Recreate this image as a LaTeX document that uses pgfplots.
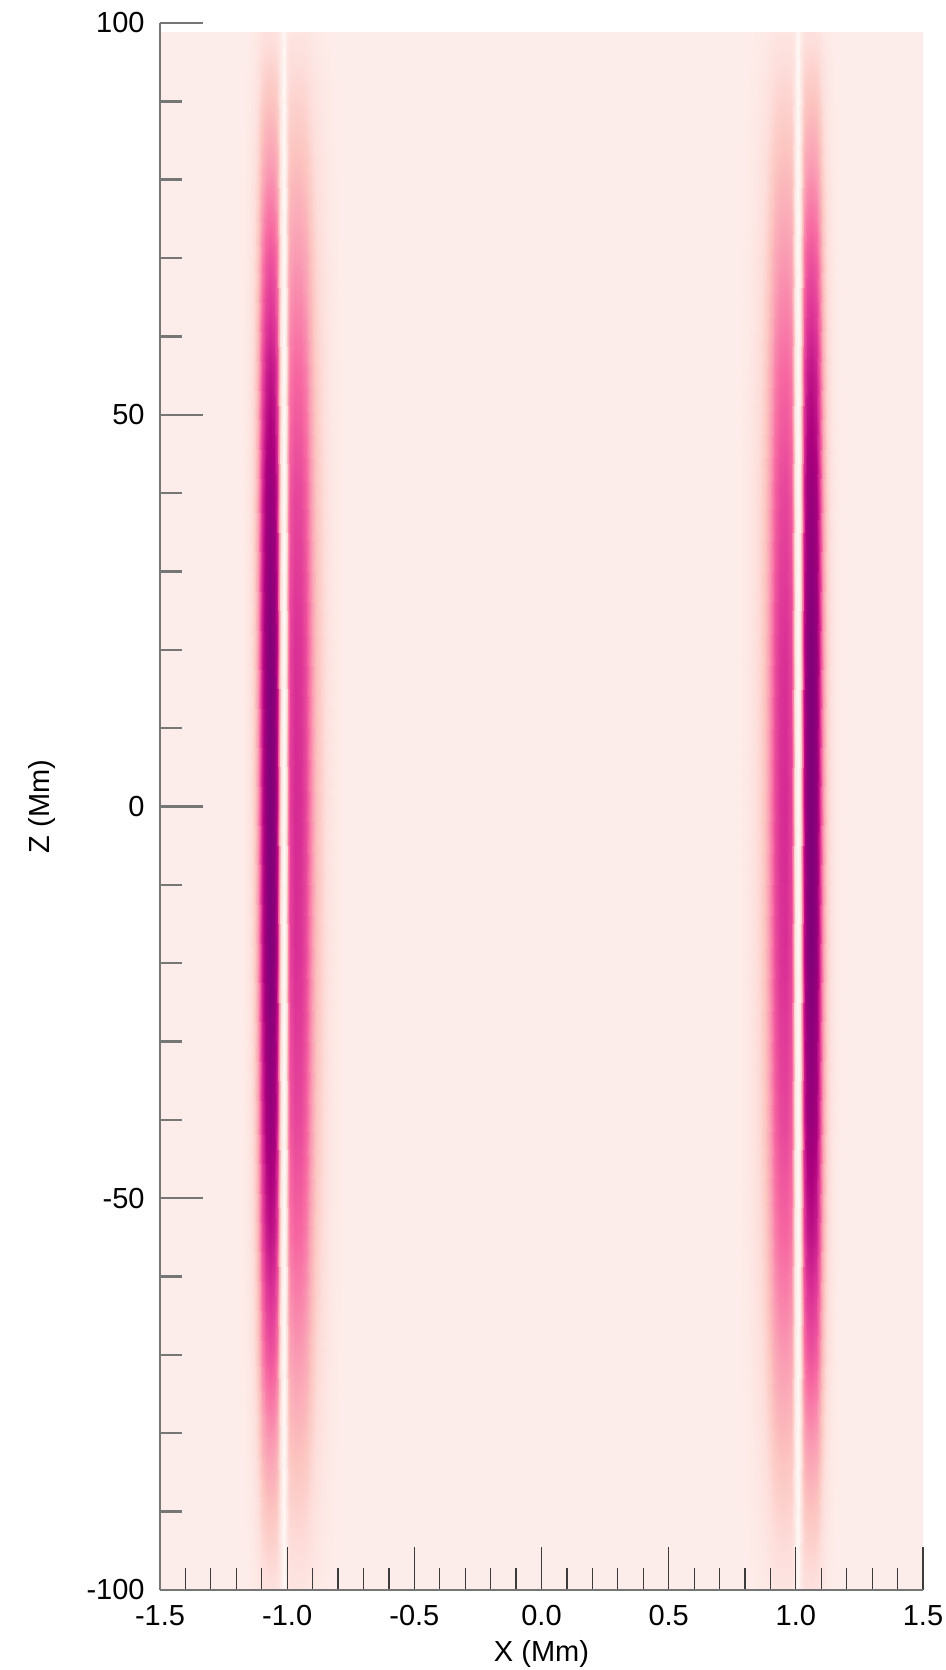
\documentclass[border=0pt]{standalone}
\usepackage{pgfplots}
\pgfplotsset{compat=1.18}
\usepackage{fontspec}
\setmainfont{Liberation Sans}

\definecolor{axgray}{RGB}{118,118,118}
\definecolor{tickdark}{RGB}{60,60,60}

\begin{document}
\begin{tikzpicture}
\begin{axis}[
  scale only axis,
  width=381.5pt, height=783.5pt,
  xmin=-1.5, xmax=1.5, ymin=-100, ymax=100,
  axis lines*=left,
  axis on top,
  tick align=inside,
  major tick length=21.5pt, minor tick length=11pt,
  xtick={-1.5,-1,-0.5,0,0.5,1,1.5},
  xticklabels={-1.5,-1.0,-0.5,0.0,0.5,1.0,1.5},
  ytick={-100,-50,0,50,100},
  yticklabels={-100,-50,0,50,100},
  minor x tick num=4, minor y tick num=4,
  every x tick/.append style={draw=tickdark, line width=0.6pt},
  every y tick/.append style={draw=axgray, line width=1.2pt},
  x axis line style={draw=axgray, line width=1.2pt},
  y axis line style={draw=axgray, line width=1.2pt},
  tick label style={font=\fontsize{14.5}{16}\selectfont, text=black},
  xticklabel style={anchor=north, inner sep=0pt, yshift=-7.5pt},
  yticklabel style={anchor=east, inner sep=0pt, xshift=-7.5pt},
  xlabel={X (Mm)}, ylabel={Z (Mm)},
  label style={font=\fontsize{14.5}{16}\selectfont},
  xlabel style={at={(axis description cs:0.5,-0.0319)}, anchor=north, inner sep=0pt},
  ylabel style={at={(axis description cs:-0.173,0.5)}, anchor=north, inner sep=0pt},
  colormap={rdpu}{rgb255(0cm)=(255,248,245); rgb255(1cm)=(253,237,234); rgb255(2cm)=(253,222,219); rgb255(3cm)=(252,197,192); rgb255(4cm)=(250,159,181); rgb255(5cm)=(247,104,161); rgb255(6cm)=(221,52,151); rgb255(7cm)=(174,1,126); rgb255(8cm)=(122,1,119); rgb255(9cm)=(73,0,106)},
  point meta min=0, point meta max=9,
]
% uniform field outside the two sheets
\addplot[surf, shader=interp, mesh/cols=2, point meta=explicit] coordinates {
(-1.5,-100)[1] (1.5,-100)[1]
(-1.5,98.8)[1] (1.5,98.8)[1]
};
% sheet near x = -1
\addplot[surf, shader=interp, mesh/cols=25, point meta=explicit] coordinates {
(-1.200,-100)[1] (-1.170,-100)[1.02] (-1.150,-100)[1.07] (-1.130,-100)[1.19] (-1.115,-100)[1.38] (-1.100,-100)[1.66] (-1.085,-100)[1.79] (-1.068,-100)[1.83] (-1.050,-100)[1.80] (-1.039,-100)[1.70] (-1.031,-100)[1.42] (-1.023,-100)[1.07] (-1.014,-100)[0] (-1.005,-100)[1.07] (-0.997,-100)[1.39] (-0.988,-100)[1.53] (-0.970,-100)[1.57] (-0.945,-100)[1.56] (-0.925,-100)[1.51] (-0.905,-100)[1.37] (-0.885,-100)[1.24] (-0.865,-100)[1.15] (-0.840,-100)[1.08] (-0.810,-100)[1.03] (-0.770,-100)[1]
(-1.200,-92)[1] (-1.170,-92)[1.04] (-1.150,-92)[1.16] (-1.130,-92)[1.42] (-1.115,-92)[1.83] (-1.100,-92)[2.43] (-1.085,-92)[2.72] (-1.068,-92)[2.81] (-1.050,-92)[2.74] (-1.039,-92)[2.51] (-1.031,-92)[1.91] (-1.023,-92)[1.16] (-1.014,-92)[0] (-1.005,-92)[1.15] (-0.997,-92)[1.88] (-0.988,-92)[2.20] (-0.970,-92)[2.30] (-0.945,-92)[2.28] (-0.925,-92)[2.15] (-0.905,-92)[1.85] (-0.885,-92)[1.55] (-0.865,-92)[1.35] (-0.840,-92)[1.18] (-0.810,-92)[1.06] (-0.770,-92)[1]
(-1.200,-82)[1] (-1.170,-82)[1.07] (-1.150,-82)[1.26] (-1.130,-82)[1.70] (-1.115,-82)[2.41] (-1.100,-82)[3.42] (-1.085,-82)[3.90] (-1.068,-82)[4.06] (-1.050,-82)[3.95] (-1.039,-82)[3.55] (-1.031,-82)[2.54] (-1.023,-82)[1.26] (-1.014,-82)[0] (-1.005,-82)[1.25] (-0.997,-82)[2.47] (-0.988,-82)[3.02] (-0.970,-82)[3.18] (-0.945,-82)[3.14] (-0.925,-82)[2.93] (-0.905,-82)[2.43] (-0.885,-82)[1.92] (-0.865,-82)[1.59] (-0.840,-82)[1.29] (-0.810,-82)[1.11] (-0.770,-82)[1]
(-1.200,-70)[1] (-1.170,-70)[1.10] (-1.150,-70)[1.38] (-1.130,-70)[2.02] (-1.115,-70)[3.05] (-1.100,-70)[4.52] (-1.085,-70)[5.22] (-1.068,-70)[5.45] (-1.050,-70)[5.29] (-1.039,-70)[4.71] (-1.031,-70)[3.24] (-1.023,-70)[1.38] (-1.014,-70)[0] (-1.005,-70)[1.36] (-0.997,-70)[3.10] (-0.988,-70)[3.88] (-0.970,-70)[4.12] (-0.945,-70)[4.06] (-0.925,-70)[3.76] (-0.905,-70)[3.04] (-0.885,-70)[2.32] (-0.865,-70)[1.84] (-0.840,-70)[1.42] (-0.810,-70)[1.15] (-0.770,-70)[1]
(-1.200,-55)[1] (-1.170,-55)[1.12] (-1.150,-55)[1.49] (-1.130,-55)[2.31] (-1.115,-55)[3.62] (-1.100,-55)[5.51] (-1.085,-55)[6.41] (-1.068,-55)[6.70] (-1.050,-55)[6.49] (-1.039,-55)[5.76] (-1.031,-55)[3.87] (-1.023,-55)[1.49] (-1.014,-55)[0] (-1.005,-55)[1.47] (-0.997,-55)[3.73] (-0.988,-55)[4.74] (-0.970,-55)[5.06] (-0.945,-55)[4.98] (-0.925,-55)[4.59] (-0.905,-55)[3.65] (-0.885,-55)[2.72] (-0.865,-55)[2.09] (-0.840,-55)[1.55] (-0.810,-55)[1.20] (-0.770,-55)[1]
(-1.200,-40)[1] (-1.170,-40)[1.14] (-1.150,-40)[1.56] (-1.130,-40)[2.49] (-1.115,-40)[3.98] (-1.100,-40)[6.12] (-1.085,-40)[7.14] (-1.068,-40)[7.46] (-1.050,-40)[7.23] (-1.039,-40)[6.39] (-1.031,-40)[4.26] (-1.023,-40)[1.56] (-1.014,-40)[0] (-1.005,-40)[1.54] (-0.997,-40)[4.15] (-0.988,-40)[5.32] (-0.970,-40)[5.68] (-0.945,-40)[5.59] (-0.925,-40)[5.14] (-0.905,-40)[4.06] (-0.885,-40)[2.98] (-0.865,-40)[2.26] (-0.840,-40)[1.63] (-0.810,-40)[1.23] (-0.770,-40)[1]
(-1.200,-20)[1] (-1.170,-20)[1.15] (-1.150,-20)[1.59] (-1.130,-20)[2.58] (-1.115,-20)[4.17] (-1.100,-20)[6.45] (-1.085,-20)[7.53] (-1.068,-20)[7.88] (-1.050,-20)[7.63] (-1.039,-20)[6.74] (-1.031,-20)[4.47] (-1.023,-20)[1.59] (-1.014,-20)[0] (-1.005,-20)[1.59] (-0.997,-20)[4.43] (-0.988,-20)[5.70] (-0.970,-20)[6.10] (-0.945,-20)[6.00] (-0.925,-20)[5.51] (-0.905,-20)[4.33] (-0.885,-20)[3.16] (-0.865,-20)[2.37] (-0.840,-20)[1.69] (-0.810,-20)[1.25] (-0.770,-20)[1]
(-1.200,0)[1] (-1.170,0)[1.15] (-1.150,0)[1.60] (-1.130,0)[2.60] (-1.115,0)[4.20] (-1.100,0)[6.50] (-1.085,0)[7.60] (-1.068,0)[7.95] (-1.050,0)[7.70] (-1.039,0)[6.80] (-1.031,0)[4.50] (-1.023,0)[1.60] (-1.014,0)[0] (-1.005,0)[1.60] (-0.997,0)[4.50] (-0.988,0)[5.80] (-0.970,0)[6.20] (-0.945,0)[6.10] (-0.925,0)[5.60] (-0.905,0)[4.40] (-0.885,0)[3.20] (-0.865,0)[2.40] (-0.840,0)[1.70] (-0.810,0)[1.25] (-0.770,0)[1]
(-1.200,20)[1] (-1.170,20)[1.15] (-1.150,20)[1.59] (-1.130,20)[2.58] (-1.115,20)[4.17] (-1.100,20)[6.45] (-1.085,20)[7.53] (-1.068,20)[7.88] (-1.050,20)[7.63] (-1.039,20)[6.74] (-1.031,20)[4.47] (-1.023,20)[1.59] (-1.014,20)[0] (-1.005,20)[1.59] (-0.997,20)[4.43] (-0.988,20)[5.70] (-0.970,20)[6.10] (-0.945,20)[6.00] (-0.925,20)[5.51] (-0.905,20)[4.33] (-0.885,20)[3.16] (-0.865,20)[2.37] (-0.840,20)[1.69] (-0.810,20)[1.25] (-0.770,20)[1]
(-1.200,40)[1] (-1.170,40)[1.14] (-1.150,40)[1.56] (-1.130,40)[2.49] (-1.115,40)[3.98] (-1.100,40)[6.12] (-1.085,40)[7.14] (-1.068,40)[7.46] (-1.050,40)[7.23] (-1.039,40)[6.39] (-1.031,40)[4.26] (-1.023,40)[1.56] (-1.014,40)[0] (-1.005,40)[1.54] (-0.997,40)[4.15] (-0.988,40)[5.32] (-0.970,40)[5.68] (-0.945,40)[5.59] (-0.925,40)[5.14] (-0.905,40)[4.06] (-0.885,40)[2.98] (-0.865,40)[2.26] (-0.840,40)[1.63] (-0.810,40)[1.23] (-0.770,40)[1]
(-1.200,55)[1] (-1.170,55)[1.12] (-1.150,55)[1.49] (-1.130,55)[2.31] (-1.115,55)[3.62] (-1.100,55)[5.51] (-1.085,55)[6.41] (-1.068,55)[6.70] (-1.050,55)[6.49] (-1.039,55)[5.76] (-1.031,55)[3.87] (-1.023,55)[1.49] (-1.014,55)[0] (-1.005,55)[1.47] (-0.997,55)[3.73] (-0.988,55)[4.74] (-0.970,55)[5.06] (-0.945,55)[4.98] (-0.925,55)[4.59] (-0.905,55)[3.65] (-0.885,55)[2.72] (-0.865,55)[2.09] (-0.840,55)[1.55] (-0.810,55)[1.20] (-0.770,55)[1]
(-1.200,70)[1] (-1.170,70)[1.10] (-1.150,70)[1.38] (-1.130,70)[2.02] (-1.115,70)[3.05] (-1.100,70)[4.52] (-1.085,70)[5.22] (-1.068,70)[5.45] (-1.050,70)[5.29] (-1.039,70)[4.71] (-1.031,70)[3.24] (-1.023,70)[1.38] (-1.014,70)[0] (-1.005,70)[1.36] (-0.997,70)[3.10] (-0.988,70)[3.88] (-0.970,70)[4.12] (-0.945,70)[4.06] (-0.925,70)[3.76] (-0.905,70)[3.04] (-0.885,70)[2.32] (-0.865,70)[1.84] (-0.840,70)[1.42] (-0.810,70)[1.15] (-0.770,70)[1]
(-1.200,82)[1] (-1.170,82)[1.07] (-1.150,82)[1.26] (-1.130,82)[1.70] (-1.115,82)[2.41] (-1.100,82)[3.42] (-1.085,82)[3.90] (-1.068,82)[4.06] (-1.050,82)[3.95] (-1.039,82)[3.55] (-1.031,82)[2.54] (-1.023,82)[1.26] (-1.014,82)[0] (-1.005,82)[1.25] (-0.997,82)[2.47] (-0.988,82)[3.02] (-0.970,82)[3.18] (-0.945,82)[3.14] (-0.925,82)[2.93] (-0.905,82)[2.43] (-0.885,82)[1.92] (-0.865,82)[1.59] (-0.840,82)[1.29] (-0.810,82)[1.11] (-0.770,82)[1]
(-1.200,92)[1] (-1.170,92)[1.04] (-1.150,92)[1.16] (-1.130,92)[1.42] (-1.115,92)[1.83] (-1.100,92)[2.43] (-1.085,92)[2.72] (-1.068,92)[2.81] (-1.050,92)[2.74] (-1.039,92)[2.51] (-1.031,92)[1.91] (-1.023,92)[1.16] (-1.014,92)[0] (-1.005,92)[1.15] (-0.997,92)[1.88] (-0.988,92)[2.20] (-0.970,92)[2.30] (-0.945,92)[2.28] (-0.925,92)[2.15] (-0.905,92)[1.85] (-0.885,92)[1.55] (-0.865,92)[1.35] (-0.840,92)[1.18] (-0.810,92)[1.06] (-0.770,92)[1]
(-1.200,98.8)[1] (-1.170,98.8)[1.02] (-1.150,98.8)[1.07] (-1.130,98.8)[1.19] (-1.115,98.8)[1.38] (-1.100,98.8)[1.66] (-1.085,98.8)[1.79] (-1.068,98.8)[1.83] (-1.050,98.8)[1.80] (-1.039,98.8)[1.70] (-1.031,98.8)[1.42] (-1.023,98.8)[1.07] (-1.014,98.8)[0] (-1.005,98.8)[1.07] (-0.997,98.8)[1.39] (-0.988,98.8)[1.53] (-0.970,98.8)[1.57] (-0.945,98.8)[1.56] (-0.925,98.8)[1.51] (-0.905,98.8)[1.37] (-0.885,98.8)[1.24] (-0.865,98.8)[1.15] (-0.840,98.8)[1.08] (-0.810,98.8)[1.03] (-0.770,98.8)[1]
};
% sheet near x = +1
\addplot[surf, shader=interp, mesh/cols=25, point meta=explicit] coordinates {
(1.193,-100)[1] (1.163,-100)[1.02] (1.143,-100)[1.07] (1.123,-100)[1.19] (1.108,-100)[1.38] (1.093,-100)[1.66] (1.078,-100)[1.79] (1.061,-100)[1.83] (1.043,-100)[1.80] (1.032,-100)[1.70] (1.024,-100)[1.42] (1.016,-100)[1.07] (1.007,-100)[0] (0.998,-100)[1.07] (0.990,-100)[1.39] (0.981,-100)[1.53] (0.963,-100)[1.57] (0.938,-100)[1.56] (0.918,-100)[1.51] (0.898,-100)[1.37] (0.878,-100)[1.24] (0.858,-100)[1.15] (0.833,-100)[1.08] (0.803,-100)[1.03] (0.763,-100)[1]
(1.193,-92)[1] (1.163,-92)[1.04] (1.143,-92)[1.16] (1.123,-92)[1.42] (1.108,-92)[1.83] (1.093,-92)[2.43] (1.078,-92)[2.72] (1.061,-92)[2.81] (1.043,-92)[2.74] (1.032,-92)[2.51] (1.024,-92)[1.91] (1.016,-92)[1.16] (1.007,-92)[0] (0.998,-92)[1.15] (0.990,-92)[1.88] (0.981,-92)[2.20] (0.963,-92)[2.30] (0.938,-92)[2.28] (0.918,-92)[2.15] (0.898,-92)[1.85] (0.878,-92)[1.55] (0.858,-92)[1.35] (0.833,-92)[1.18] (0.803,-92)[1.06] (0.763,-92)[1]
(1.193,-82)[1] (1.163,-82)[1.07] (1.143,-82)[1.26] (1.123,-82)[1.70] (1.108,-82)[2.41] (1.093,-82)[3.42] (1.078,-82)[3.90] (1.061,-82)[4.06] (1.043,-82)[3.95] (1.032,-82)[3.55] (1.024,-82)[2.54] (1.016,-82)[1.26] (1.007,-82)[0] (0.998,-82)[1.25] (0.990,-82)[2.47] (0.981,-82)[3.02] (0.963,-82)[3.18] (0.938,-82)[3.14] (0.918,-82)[2.93] (0.898,-82)[2.43] (0.878,-82)[1.92] (0.858,-82)[1.59] (0.833,-82)[1.29] (0.803,-82)[1.11] (0.763,-82)[1]
(1.193,-70)[1] (1.163,-70)[1.10] (1.143,-70)[1.38] (1.123,-70)[2.02] (1.108,-70)[3.05] (1.093,-70)[4.52] (1.078,-70)[5.22] (1.061,-70)[5.45] (1.043,-70)[5.29] (1.032,-70)[4.71] (1.024,-70)[3.24] (1.016,-70)[1.38] (1.007,-70)[0] (0.998,-70)[1.36] (0.990,-70)[3.10] (0.981,-70)[3.88] (0.963,-70)[4.12] (0.938,-70)[4.06] (0.918,-70)[3.76] (0.898,-70)[3.04] (0.878,-70)[2.32] (0.858,-70)[1.84] (0.833,-70)[1.42] (0.803,-70)[1.15] (0.763,-70)[1]
(1.193,-55)[1] (1.163,-55)[1.12] (1.143,-55)[1.49] (1.123,-55)[2.31] (1.108,-55)[3.62] (1.093,-55)[5.51] (1.078,-55)[6.41] (1.061,-55)[6.70] (1.043,-55)[6.49] (1.032,-55)[5.76] (1.024,-55)[3.87] (1.016,-55)[1.49] (1.007,-55)[0] (0.998,-55)[1.47] (0.990,-55)[3.73] (0.981,-55)[4.74] (0.963,-55)[5.06] (0.938,-55)[4.98] (0.918,-55)[4.59] (0.898,-55)[3.65] (0.878,-55)[2.72] (0.858,-55)[2.09] (0.833,-55)[1.55] (0.803,-55)[1.20] (0.763,-55)[1]
(1.193,-40)[1] (1.163,-40)[1.14] (1.143,-40)[1.56] (1.123,-40)[2.49] (1.108,-40)[3.98] (1.093,-40)[6.12] (1.078,-40)[7.14] (1.061,-40)[7.46] (1.043,-40)[7.23] (1.032,-40)[6.39] (1.024,-40)[4.26] (1.016,-40)[1.56] (1.007,-40)[0] (0.998,-40)[1.54] (0.990,-40)[4.15] (0.981,-40)[5.32] (0.963,-40)[5.68] (0.938,-40)[5.59] (0.918,-40)[5.14] (0.898,-40)[4.06] (0.878,-40)[2.98] (0.858,-40)[2.26] (0.833,-40)[1.63] (0.803,-40)[1.23] (0.763,-40)[1]
(1.193,-20)[1] (1.163,-20)[1.15] (1.143,-20)[1.59] (1.123,-20)[2.58] (1.108,-20)[4.17] (1.093,-20)[6.45] (1.078,-20)[7.53] (1.061,-20)[7.88] (1.043,-20)[7.63] (1.032,-20)[6.74] (1.024,-20)[4.47] (1.016,-20)[1.59] (1.007,-20)[0] (0.998,-20)[1.59] (0.990,-20)[4.43] (0.981,-20)[5.70] (0.963,-20)[6.10] (0.938,-20)[6.00] (0.918,-20)[5.51] (0.898,-20)[4.33] (0.878,-20)[3.16] (0.858,-20)[2.37] (0.833,-20)[1.69] (0.803,-20)[1.25] (0.763,-20)[1]
(1.193,0)[1] (1.163,0)[1.15] (1.143,0)[1.60] (1.123,0)[2.60] (1.108,0)[4.20] (1.093,0)[6.50] (1.078,0)[7.60] (1.061,0)[7.95] (1.043,0)[7.70] (1.032,0)[6.80] (1.024,0)[4.50] (1.016,0)[1.60] (1.007,0)[0] (0.998,0)[1.60] (0.990,0)[4.50] (0.981,0)[5.80] (0.963,0)[6.20] (0.938,0)[6.10] (0.918,0)[5.60] (0.898,0)[4.40] (0.878,0)[3.20] (0.858,0)[2.40] (0.833,0)[1.70] (0.803,0)[1.25] (0.763,0)[1]
(1.193,20)[1] (1.163,20)[1.15] (1.143,20)[1.59] (1.123,20)[2.58] (1.108,20)[4.17] (1.093,20)[6.45] (1.078,20)[7.53] (1.061,20)[7.88] (1.043,20)[7.63] (1.032,20)[6.74] (1.024,20)[4.47] (1.016,20)[1.59] (1.007,20)[0] (0.998,20)[1.59] (0.990,20)[4.43] (0.981,20)[5.70] (0.963,20)[6.10] (0.938,20)[6.00] (0.918,20)[5.51] (0.898,20)[4.33] (0.878,20)[3.16] (0.858,20)[2.37] (0.833,20)[1.69] (0.803,20)[1.25] (0.763,20)[1]
(1.193,40)[1] (1.163,40)[1.14] (1.143,40)[1.56] (1.123,40)[2.49] (1.108,40)[3.98] (1.093,40)[6.12] (1.078,40)[7.14] (1.061,40)[7.46] (1.043,40)[7.23] (1.032,40)[6.39] (1.024,40)[4.26] (1.016,40)[1.56] (1.007,40)[0] (0.998,40)[1.54] (0.990,40)[4.15] (0.981,40)[5.32] (0.963,40)[5.68] (0.938,40)[5.59] (0.918,40)[5.14] (0.898,40)[4.06] (0.878,40)[2.98] (0.858,40)[2.26] (0.833,40)[1.63] (0.803,40)[1.23] (0.763,40)[1]
(1.193,55)[1] (1.163,55)[1.12] (1.143,55)[1.49] (1.123,55)[2.31] (1.108,55)[3.62] (1.093,55)[5.51] (1.078,55)[6.41] (1.061,55)[6.70] (1.043,55)[6.49] (1.032,55)[5.76] (1.024,55)[3.87] (1.016,55)[1.49] (1.007,55)[0] (0.998,55)[1.47] (0.990,55)[3.73] (0.981,55)[4.74] (0.963,55)[5.06] (0.938,55)[4.98] (0.918,55)[4.59] (0.898,55)[3.65] (0.878,55)[2.72] (0.858,55)[2.09] (0.833,55)[1.55] (0.803,55)[1.20] (0.763,55)[1]
(1.193,70)[1] (1.163,70)[1.10] (1.143,70)[1.38] (1.123,70)[2.02] (1.108,70)[3.05] (1.093,70)[4.52] (1.078,70)[5.22] (1.061,70)[5.45] (1.043,70)[5.29] (1.032,70)[4.71] (1.024,70)[3.24] (1.016,70)[1.38] (1.007,70)[0] (0.998,70)[1.36] (0.990,70)[3.10] (0.981,70)[3.88] (0.963,70)[4.12] (0.938,70)[4.06] (0.918,70)[3.76] (0.898,70)[3.04] (0.878,70)[2.32] (0.858,70)[1.84] (0.833,70)[1.42] (0.803,70)[1.15] (0.763,70)[1]
(1.193,82)[1] (1.163,82)[1.07] (1.143,82)[1.26] (1.123,82)[1.70] (1.108,82)[2.41] (1.093,82)[3.42] (1.078,82)[3.90] (1.061,82)[4.06] (1.043,82)[3.95] (1.032,82)[3.55] (1.024,82)[2.54] (1.016,82)[1.26] (1.007,82)[0] (0.998,82)[1.25] (0.990,82)[2.47] (0.981,82)[3.02] (0.963,82)[3.18] (0.938,82)[3.14] (0.918,82)[2.93] (0.898,82)[2.43] (0.878,82)[1.92] (0.858,82)[1.59] (0.833,82)[1.29] (0.803,82)[1.11] (0.763,82)[1]
(1.193,92)[1] (1.163,92)[1.04] (1.143,92)[1.16] (1.123,92)[1.42] (1.108,92)[1.83] (1.093,92)[2.43] (1.078,92)[2.72] (1.061,92)[2.81] (1.043,92)[2.74] (1.032,92)[2.51] (1.024,92)[1.91] (1.016,92)[1.16] (1.007,92)[0] (0.998,92)[1.15] (0.990,92)[1.88] (0.981,92)[2.20] (0.963,92)[2.30] (0.938,92)[2.28] (0.918,92)[2.15] (0.898,92)[1.85] (0.878,92)[1.55] (0.858,92)[1.35] (0.833,92)[1.18] (0.803,92)[1.06] (0.763,92)[1]
(1.193,98.8)[1] (1.163,98.8)[1.02] (1.143,98.8)[1.07] (1.123,98.8)[1.19] (1.108,98.8)[1.38] (1.093,98.8)[1.66] (1.078,98.8)[1.79] (1.061,98.8)[1.83] (1.043,98.8)[1.80] (1.032,98.8)[1.70] (1.024,98.8)[1.42] (1.016,98.8)[1.07] (1.007,98.8)[0] (0.998,98.8)[1.07] (0.990,98.8)[1.39] (0.981,98.8)[1.53] (0.963,98.8)[1.57] (0.938,98.8)[1.56] (0.918,98.8)[1.51] (0.898,98.8)[1.37] (0.878,98.8)[1.24] (0.858,98.8)[1.15] (0.833,98.8)[1.08] (0.803,98.8)[1.03] (0.763,98.8)[1]
};
\coordinate (ll) at (rel axis cs:0,0);
\coordinate (ur) at (rel axis cs:1,1);
\end{axis}
\pgfresetboundingbox
\path ([shift={(-80pt,-40pt)}]ll) rectangle ([shift={(11.5pt,11.5pt)}]ur);
\end{tikzpicture}
\end{document}
